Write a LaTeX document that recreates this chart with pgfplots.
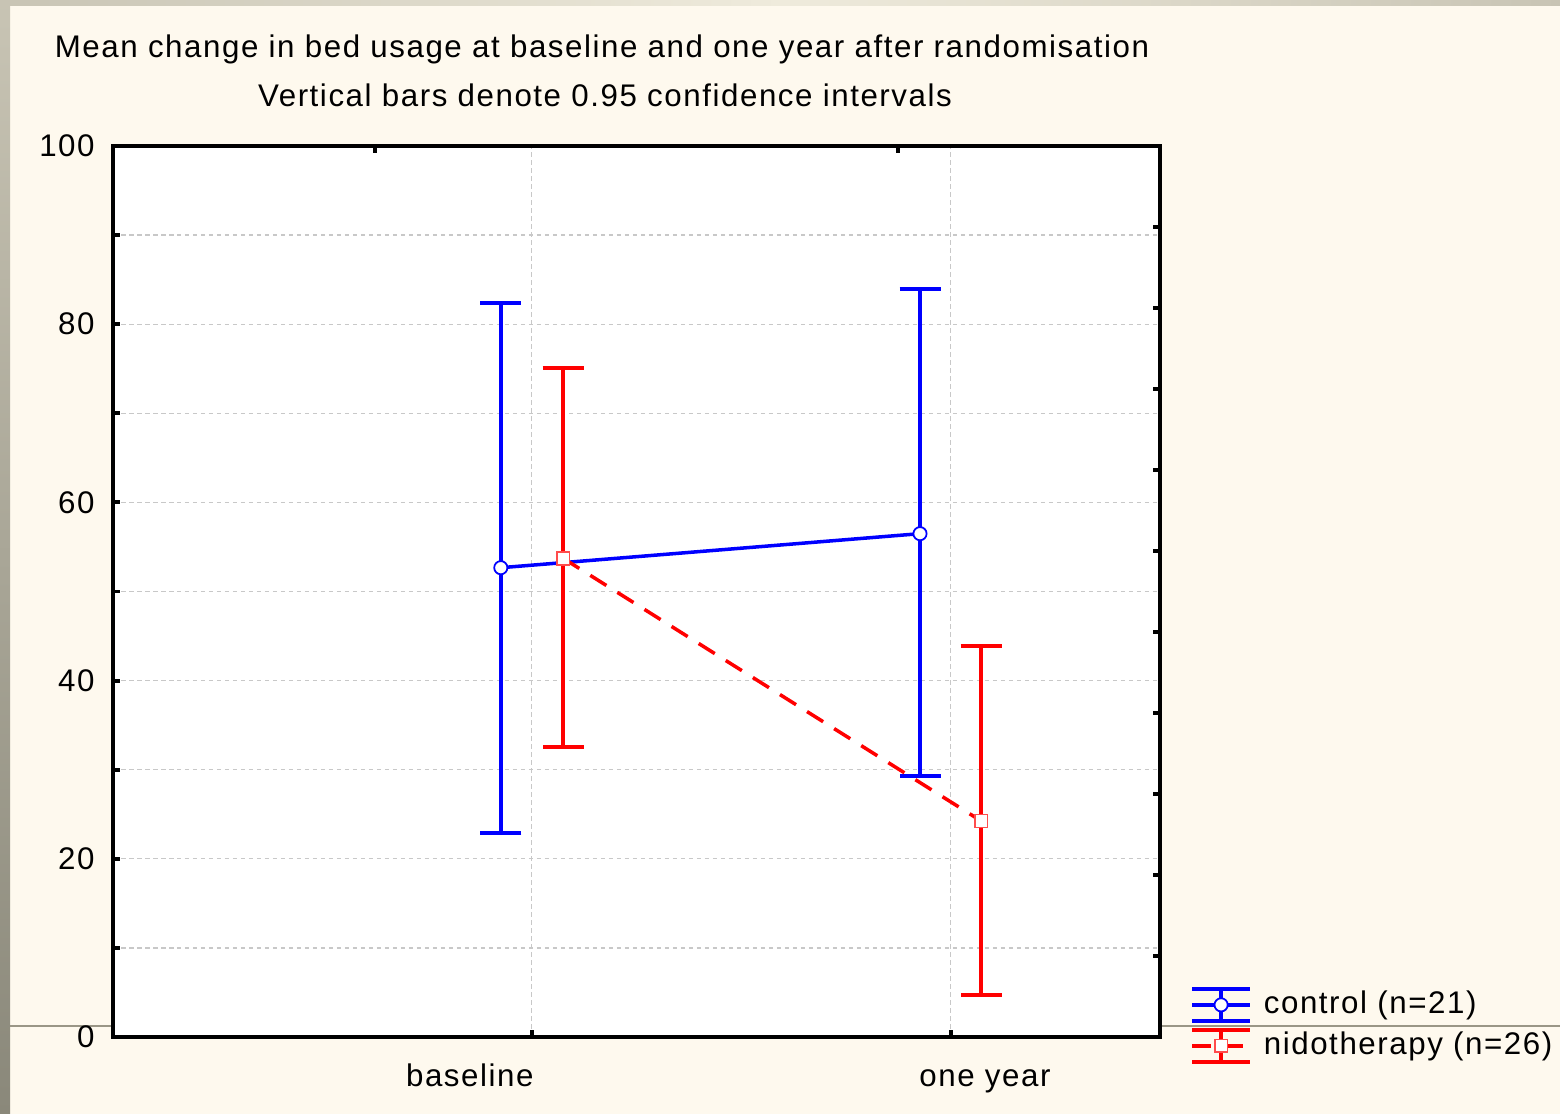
\documentclass[border=0pt]{standalone}
\usepackage{pgfplots}
\pgfplotsset{compat=1.18}
\usepackage{fontspec}
\setmainfont{Liberation Sans}[LetterSpace=5]
\setsansfont{Liberation Sans}
\definecolor{cream}{HTML}{FEF9EE}
\definecolor{gridgray}{HTML}{C8C8C8}
\definecolor{stripA}{HTML}{C8C4B4}
\definecolor{stripB}{HTML}{EFEBDC}
\definecolor{stripC}{HTML}{8A887A}
\definecolor{sepline}{HTML}{9A9686}

\pgfplotstableread{
x y ep em
0.926 52.67 29.71 29.77
1.927 56.49 27.46 27.20
}\control
\pgfplotstableread{
x y ep em
1.075 53.72 21.36 21.17
2.073 24.24 19.64 19.53
}\nido

\begin{document}
\begin{tikzpicture}[x=0.1mm,y=0.1mm,font=\fontsize{8.9}{10.5}\selectfont]
\fill[cream] (0,0) rectangle (1560,1114);
\useasboundingbox (0,0) rectangle (1560,1114);
\shade[top color=stripA, bottom color=stripC] (0,0) rectangle (10,1114);
\shade[left color=stripA, right color=stripA, middle color=stripB] (0,1108) rectangle (1560,1114);
\draw[sepline, line width=0.3pt] (10,88) -- (1560,88);
\node[anchor=base] at (602,1056) {Mean change in bed usage at baseline and one year after randomisation};
\node[anchor=base] at (605,1007) {Vertical bars denote 0.95 confidence intervals};

\begin{axis}[
  at={(11.3mm,7.7mm)}, anchor=south west,
  scale only axis, width=104.7mm, height=89.1mm,
  xmin=0, xmax=2.5, ymin=0, ymax=100,
  axis background/.style={fill=white},
  axis line style={line width=1.1pt},
  xtick={1,2}, xticklabels={},
  extra x ticks={0.852,2.082},
  extra x tick labels={baseline,one year},
  extra x tick style={major tick length=0pt, grid=none,
     xticklabel style={anchor=base, yshift=-5.0mm}},
  ytick={0,20,...,100}, minor ytick={10,30,...,90},
  xtick pos=left, ytick pos=left,
  tick align=inside,
  major tick length=0.7mm, minor tick length=0.7mm,
  every tick/.style={black, line width=1.1pt},
  grid=both,
  major grid style={gridgray, line width=0.35pt, dash pattern=on 0.45mm off 0.35mm},
  minor grid style={gridgray, line width=0.35pt, dash pattern=on 0.45mm off 0.35mm},
  yticklabel style={/pgf/number format/assume math mode=true, xshift=-0.6mm},
  /pgf/number format/assume math mode=true,
  clip=false,
  legend style={draw=none, fill=none, inner sep=0pt, outer sep=0pt,
     at={(axis description cs:1.0290,0.0560)}, anchor=north west,
     row sep=0.55mm,
     nodes={inner sep=0pt},
     /tikz/every odd column/.append style={column sep=1.2mm}},
  legend cell align=left,
  legend image code/.code={
    \draw[solid, line width=1pt] (0mm,1.6mm) -- (5.8mm,1.6mm)
       (0mm,-1.6mm) -- (5.8mm,-1.6mm) (2.9mm,-1.6mm) -- (2.9mm,1.6mm);
    \draw[mark repeat=2, mark phase=2] plot coordinates {(0mm,0mm) (2.9mm,0mm) (5.8mm,0mm)};
  },
]
\addplot+[blue, line width=1pt, solid, mark=*,
  mark options={solid, draw=blue, fill=white, line width=0.5pt, scale=1},
  mark size=0.66mm,
  error bars/.cd, y dir=both, y explicit,
  error bar style={blue, line width=1pt, solid},
  error mark options={rotate=90, mark size=2.05mm, line width=1pt, blue}]
  table[x=x, y=y, y error plus=ep, y error minus=em] {\control};
\addlegendentry{control (n=21)}
\addplot+[red, line width=1pt, dash pattern=on 1.9mm off 1.3mm, mark=square*,
  mark options={solid, draw=red!70, fill=white, line width=0.5pt},
  mark size=0.64mm,
  error bars/.cd, y dir=both, y explicit,
  error bar style={red, line width=1pt, solid},
  error mark options={rotate=90, mark size=2.05mm, line width=1pt, red}]
  table[x=x, y=y, y error plus=ep, y error minus=em] {\nido};
\addlegendentry{nidotherapy (n=26)}
\end{axis}

\begin{axis}[
  at={(11.3mm,7.7mm)}, anchor=south west,
  scale only axis, width=104.7mm, height=89.1mm,
  xmin=0, xmax=2.5, ymin=0, ymax=11,
  axis line style={draw=none},
  xtick={0.626,1.874}, ytick={1,...,10},
  xticklabels={}, yticklabels={},
  xtick pos=right, ytick pos=right,
  tick align=inside,
  major tick length=0.7mm,
  every tick/.style={black, line width=1.1pt},
]
\addplot[draw=none] coordinates {(0,0)};
\end{axis}
\end{tikzpicture}
\end{document}
